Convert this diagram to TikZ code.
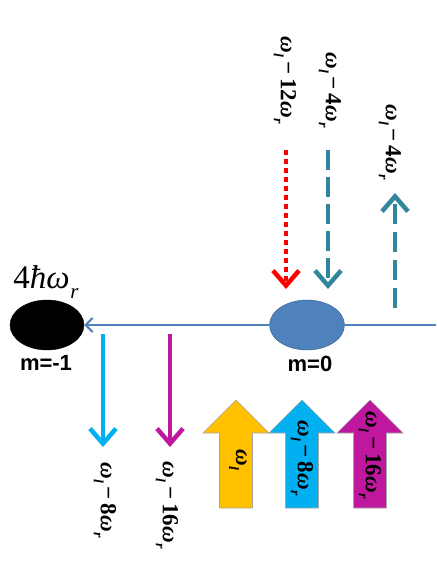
\documentclass[tikz,border=0pt]{standalone}
\usepackage{fontspec}
\setmainfont{Liberation Serif}
\newfontfamily\labsans{Liberation Sans}
\usetikzlibrary{arrows.meta,shapes.geometric}
\definecolor{lineblue}{HTML}{4F81BD}
\definecolor{ellblue}{HTML}{4F81BD}
\definecolor{ellborder}{HTML}{385D8A}
\definecolor{tealc}{HTML}{31859C}
\definecolor{mycyan}{HTML}{00B0F0}
\definecolor{mymag}{HTML}{C0179F}
\definecolor{myyellow}{HTML}{FFC000}
\newcommand\wsub[2][14]{{\itshape ω\kern0.02em\raisebox{-0.3em}{\fontsize{#1}{#1}\selectfont #2}}}
\newcommand\mns{\,−\,}
\tikzset{
  lbl/.style={rotate=-90, font=\bfseries\fontsize{23}{26}\selectfont, inner sep=0pt},
  mlbl/.style={font=\labsans\bfseries\fontsize{22}{24}\selectfont, inner sep=0pt},
  thickarrow/.style={line width=4.5pt, line cap=butt, -{Straight Barb[length=15pt,width=26pt,line width=4.5pt]}},
  blockarrow/.style={draw=gray!70, line width=0.6pt},
}
\begin{document}
\begin{tikzpicture}[x=1pt,y=-1pt]
\useasboundingbox (0,0) rectangle (436,564);
% ellipses
\node[ellipse, draw=black, fill=black, minimum width=74pt, minimum height=50pt, inner sep=0pt] (m1) at (47,325) {};
\node[ellipse, draw=ellborder, fill=ellblue, minimum width=75pt, minimum height=50pt, inner sep=0pt] (m0) at (307,325) {};
\coordinate (rend) at (436,325);
\draw[lineblue, line width=2.5pt] (rend) -- (m0.east);
\draw[lineblue, line width=2.5pt, -{Straight Barb[length=7pt,width=14pt,line width=2pt]}] (m0.west) -- (m1.east);
% labels of ellipses
\node[font=\fontsize{33}{36}\selectfont, inner sep=0pt] (hb) at (46,282) {4{\itshape ħ}\wsub[21]{r}};
\node[mlbl] (lm1) at (46,363) {m=-1};
\node[mlbl] (lm0) at (310,364) {m=0};
% top arrows
\coordinate (rs) at (286,150); \coordinate (re) at (286,289);
\draw[red, thickarrow, dash pattern=on 5pt off 4pt] (rs) -- (re);
\coordinate (ts) at (328,150); \coordinate (te) at (328,289);
\draw[tealc, thickarrow, dash pattern=on 20pt off 7pt] (ts) -- (te);
\coordinate (us) at (395,308); \coordinate (ue) at (395,193);
\draw[tealc, thickarrow, dash pattern=on 20pt off 8pt] (us) -- (ue);
\node[lbl] (l12) at (285,80) {\wsub{l}\mns12\wsub{r}};
\node[lbl] (l4a) at (330,90) {\wsub{l}\mns4\wsub{r}};
\node[lbl] (l4b) at (390,142) {\wsub{l}\mns4\wsub{r}};
% bottom thin arrows
\coordinate (cs) at (103,334); \coordinate (ce) at (103,447);
\draw[mycyan, thickarrow] (cs) -- (ce);
\coordinate (ms) at (170,334); \coordinate (me) at (170,447);
\draw[mymag, thickarrow] (ms) -- (me);
\node[lbl] (l8) at (105,500) {\wsub{l}\mns8\wsub{r}};
\node[lbl] (l16) at (167,505) {\wsub{l}\mns16\wsub{r}};
% block arrows
\foreach \cx/\col in {236/myyellow, 302/mycyan, 370/mymag}{
  \fill[\col] (\cx-16.5,508) -- (\cx-16.5,433) -- (\cx-33,433) -- (\cx,400) -- (\cx+33,433) -- (\cx+16.5,433) -- (\cx+16.5,508) -- cycle;
  \draw[blockarrow] (\cx-16.5,508) -- (\cx-16.5,433) -- (\cx-33,433) -- (\cx,400) -- (\cx+33,433) -- (\cx+16.5,433) -- (\cx+16.5,508) -- cycle;
}
\node[lbl] (bw) at (238,460) {\wsub{l}};
\node[lbl] (b8) at (302,458) {\wsub{l}\mns8\wsub{r}};
\node[lbl] (b16) at (370,455) {\wsub{l}\mns16\wsub{r}};
\end{tikzpicture}
\end{document}
